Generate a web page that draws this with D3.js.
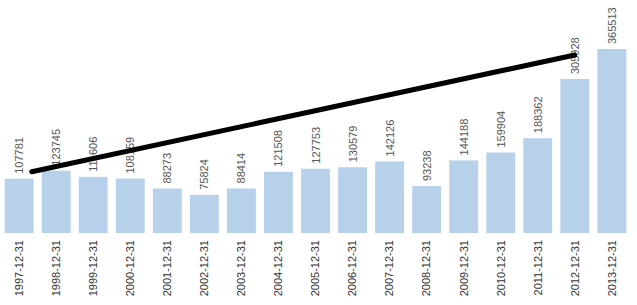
<!DOCTYPE html>
<html lang="en">
<head>
<meta charset="UTF-8">
<title>bars</title>
<script src="https://d3js.org/d3.v7.min.js"></script>
<style>
  body { margin: 0; background: #fff; }
  .val { font-family: "Liberation Sans", Arial, sans-serif; font-size: 11px; fill: #555; }
  .x.axis text { font-family: "Liberation Sans", Arial, sans-serif; font-size: 11px; fill: #333; }
  .x.axis path, .x.axis line { display: none; }
</style>
</head>
<body>
<script>

var dates = ["1997-12-31", "1998-12-31", "1999-12-31", "2000-12-31", "2001-12-31", "2002-12-31",
  "2003-12-31", "2004-12-31", "2005-12-31", "2006-12-31", "2007-12-31", "2008-12-31",
  "2009-12-31", "2010-12-31", "2011-12-31", "2012-12-31", "2013-12-31"];
var values = [107781, 123745, 111606, 108159, 88273, 75824, 88414, 121508, 127753,
  130579, 142126, 93238, 144188, 159904, 188362, 305928, 365513];

// trend line: position in bar steps from the first bar centre, and value
var trendIndex = [0.34, 15];
var trendValue = [121800, 353600];

var width = 637, height = 305;
var baseY = 233, topY = 49;

var svg = d3.select("body").append("svg")
    .attr("width", width)
    .attr("height", height);

var x = d3.scaleBand().domain(dates).range([1, 630]).paddingInner(0.22).paddingOuter(0.1);
var y = d3.scaleLinear().domain([0, d3.max(values)]).range([baseY, topY]);

var data = dates.map(function(d, i) { return {date: d, value: values[i]}; });

svg.selectAll(".bar")
    .data(data)
    .enter().append("rect")
    .attr("class", "bar")
    .attr("x", function(d) { return x(d.date); })
    .attr("width", x.bandwidth())
    .attr("y", function(d) { return y(d.value); })
    .attr("height", function(d) { return baseY - y(d.value); })
    .attr("fill", "#b8d1ea");

svg.selectAll(".val")
    .data(data)
    .enter().append("text")
    .attr("class", "val")
    .attr("transform", function(d) {
        return "translate(" + (x(d.date) + x.bandwidth() / 2 + 4) + "," + (y(d.value) - 5) + ") rotate(-90)";
    })
    .text(function(d) { return d.value; });

svg.append("g")
    .attr("class", "x axis")
    .attr("transform", "translate(0," + baseY + ")")
    .call(d3.axisBottom(x).tickSize(0))
    .selectAll("text")
        .style("text-anchor", "end")
        .attr("transform", "rotate(-90)")
        .attr("x", -7)
        .attr("y", 0)
        .attr("dy", ".35em");

var xi = d3.scaleLinear()
    .domain([0, 1])
    .range([x(dates[0]) + x.bandwidth() / 2, x(dates[1]) + x.bandwidth() / 2]);

var trend = trendIndex.map(function(t, i) { return [xi(t), y(trendValue[i])]; });

svg.append("path")
    .attr("d", d3.line()(trend))
    .attr("stroke", "#000")
    .attr("stroke-width", 5)
    .attr("stroke-linecap", "round")
    .attr("fill", "none");

</script>
</body>
</html>
